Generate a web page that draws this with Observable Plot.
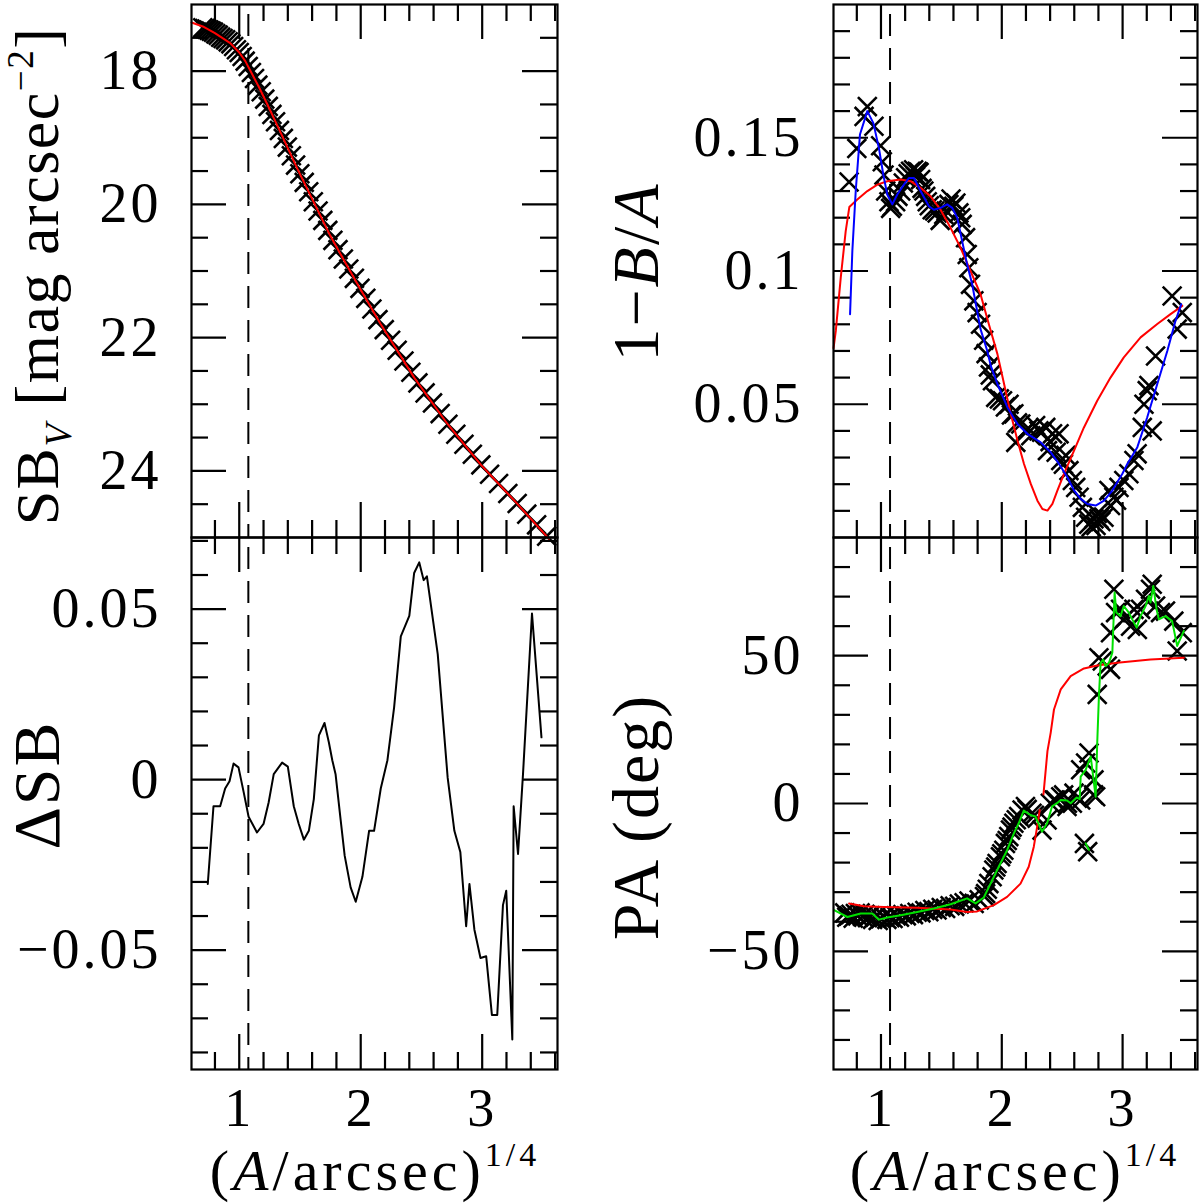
<!DOCTYPE html>
<html><head><meta charset="utf-8">
<script src="https://cdn.jsdelivr.net/npm/d3@7"></script>
<script src="https://cdn.jsdelivr.net/npm/@observablehq/plot@0.6"></script>
<style>
html,body{margin:0;padding:0;background:#fff;}
#fig{position:relative;width:1200px;height:1203px;overflow:hidden;background:#fff;}
#fig svg{position:absolute;}
</style></head><body><div id="fig"></div>
<script>
// ---------------- axes / ticks ----------------
const xDomain = [0.607, 3.62];
const xMajor = [1, 2, 3];
const xMinor = [0.8, 1.2, 1.4, 1.6, 1.8, 2.2, 2.4, 2.6, 2.8, 3.2, 3.4, 3.6];
const centerRadius = [1.075];

const sbDomain = [25, 17];
const sbMajor = [18, 20, 22, 24];
const sbMinor = [17.5, 18.5, 19, 19.5, 20.5, 21, 21.5, 22.5, 23, 23.5, 24.5];
const dsbDomain = [-0.085, 0.071];
const dsbMajor = [-0.05, 0, 0.05];
const dsbMinor = [-0.08, -0.07, -0.06, -0.04, -0.03, -0.02, -0.01, 0.01, 0.02, 0.03, 0.04, 0.06, 0.07];
const ellDomain = [0, 0.2];
const ellMajor = [0.05, 0.1, 0.15];
const ellMinor = [0.01, 0.02, 0.03, 0.04, 0.06, 0.07, 0.08, 0.09, 0.11, 0.12, 0.13, 0.14, 0.16, 0.17, 0.18, 0.19];
const paDomain = [-90, 90];
const paMajor = [-50, 0, 50];
const paMinor = [-80, -70, -60, -40, -30, -20, -10, 10, 20, 30, 40, 60, 70, 80];

// ---------------- surface brightness ----------------
const sbRadius = [0.700,0.717,0.734,0.752,0.770,0.788,0.807,0.827,0.847,0.867,0.888,0.909,0.931,0.954,0.977,1.000,1.024,1.049,1.074,1.100,1.126,1.153,1.181,1.210,1.239,1.269,1.299,1.331,1.363,1.396,1.429,1.464,1.499,1.535,1.572,1.610,1.649,1.688,1.729,1.771,1.813,1.857,1.902,1.948,1.994,2.042,2.092,2.142,2.194,2.246,2.300,2.356,2.413,2.471,2.530,2.591,2.654,2.718,2.783,2.850,2.919,2.989,3.061,3.135,3.211,3.288,3.367,3.448,3.531];
const sbValue = [17.35,17.36,17.37,17.385,17.40,17.415,17.44,17.46,17.49,17.51,17.53,17.56,17.59,17.63,17.68,17.72,17.78,17.85,17.93,18.02,18.11,18.21,18.31,18.42,18.53,18.65,18.76,18.89,19.01,19.14,19.27,19.41,19.54,19.67,19.81,19.96,20.10,20.24,20.39,20.54,20.68,20.82,20.97,21.11,21.26,21.41,21.57,21.73,21.88,22.04,22.19,22.35,22.52,22.68,22.83,22.98,23.14,23.30,23.45,23.60,23.75,23.91,24.05,24.19,24.34,24.49,24.65,24.81,24.98];
const sbModelR = [0.607,0.70,0.80,0.926,1.0,1.05,1.096,1.165,1.229,1.34,1.477,1.614,1.752,1.89,2.0,2.165,2.44,2.716,2.99,3.267,3.55];
const sbModel = [17.27,17.33,17.43,17.58,17.72,17.85,18.01,18.25,18.49,18.92,19.46,19.97,20.48,20.93,21.28,21.80,22.60,23.30,23.91,24.45,25.02];

// ---------------- residual ----------------
const dsbR = [0.741,0.788,0.843,0.884,0.92,0.953,0.994,1.036,1.077,1.146,1.2,1.242,1.284,1.353,1.40,1.449,1.49,1.532,1.573,1.614,1.656,1.702,1.738,1.766,1.793,1.835,1.868,1.917,1.959,2.014,2.069,2.11,2.165,2.22,2.275,2.33,2.4,2.44,2.482,2.518,2.545,2.634,2.716,2.771,2.82,2.868,2.895,2.936,2.986,3.033,3.08,3.124,3.171,3.198,3.248,3.259,3.295,3.336,3.41,3.488];
const dsb = [-0.0306,-0.0078,-0.0078,-0.0026,-0.0005,0.0047,0.0036,-0.0036,-0.0109,-0.0155,-0.013,-0.0067,0.0016,0.005,0.0038,-0.0078,-0.013,-0.0176,-0.015,-0.0057,0.013,0.0166,0.0109,0.0057,0.0016,-0.0119,-0.0223,-0.0316,-0.0358,-0.0285,-0.015,-0.015,-0.0026,0.0057,0.0212,0.042,0.048,0.0606,0.0637,0.0585,0.0596,0.0368,0.0005,-0.015,-0.0212,-0.043,-0.0306,-0.044,-0.0523,-0.0518,-0.069,-0.069,-0.0368,-0.0326,-0.0762,-0.0078,-0.0218,0.0016,0.0487,0.0124];

// ---------------- ellipticity ----------------
const ellR = [0.736,0.80,0.86,0.887,0.942,0.997,1.011,1.025,1.039,1.066,1.08,1.094,1.121,1.14,1.163,1.185,1.204,1.225,1.245,1.27,1.285,1.30,1.315,1.328,1.34,1.355,1.37,1.383,1.40,1.424,1.445,1.465,1.49,1.52,1.54,1.562,1.58,1.603,1.62,1.645,1.66,1.672,1.70,1.714,1.727,1.741,1.769,1.796,1.824,1.85,1.87,1.89,1.905,1.923,1.95,1.98,2.006,2.03,2.06,2.08,2.10,2.116,2.13,2.157,2.198,2.22,2.24,2.28,2.308,2.33,2.364,2.378,2.40,2.42,2.45,2.474,2.488,2.51,2.53,2.556,2.584,2.612,2.64,2.667,2.694,2.72,2.74,2.763,2.78,2.79,2.804,2.82,2.846,2.887,2.9,2.928,2.95,2.97,3.01,3.052,3.094,3.12,3.163,3.177,3.204,3.218,3.245,3.273,3.41,3.452,3.494];
const ell = [0.1334,0.146,0.158,0.1617,0.1543,0.147,0.141,0.136,0.130,0.126,0.1235,0.1243,0.126,0.128,0.130,0.133,0.135,0.1365,0.1374,0.138,0.1355,0.1374,0.137,0.1343,0.131,0.130,0.128,0.126,0.1245,0.123,0.1225,0.1218,0.119,0.1212,0.1225,0.125,0.127,0.1243,0.1255,0.1218,0.12,0.1175,0.1125,0.1062,0.1012,0.095,0.0888,0.0844,0.080,0.074,0.069,0.064,0.061,0.0588,0.0526,0.052,0.0513,0.049,0.050,0.046,0.0464,0.0357,0.043,0.0426,0.040,0.041,0.0382,0.042,0.040,0.0395,0.0413,0.0326,0.036,0.0389,0.032,0.0389,0.0289,0.0275,0.0308,0.0251,0.0214,0.0188,0.0151,0.0113,0.0076,0.005,0.004,0.007,0.0045,0.009,0.007,0.006,0.0076,0.0176,0.012,0.0151,0.014,0.0188,0.0214,0.0239,0.0289,0.0314,0.0413,0.050,0.0551,0.057,0.040,0.0681,0.0906,0.0782,0.0844];
const ellSmoothR = [0.744,0.763,0.791,0.826,0.887,0.937,0.983,1.019,1.052,1.094,1.135,1.19,1.231,1.273,1.328,1.397,1.438,1.493,1.548,1.59,1.631,1.672,1.713,1.755,1.796,1.824,1.88,1.909,1.964,2.047,2.13,2.212,2.322,2.405,2.474,2.543,2.598,2.653,2.708,2.777,2.846,2.915,2.998,3.039,3.122,3.204,3.287,3.37,3.438,3.485];
const ellSmooth = [0.0838,0.1075,0.130,0.1512,0.160,0.1555,0.1461,0.1362,0.1287,0.125,0.1287,0.1324,0.1349,0.1349,0.130,0.1243,0.123,0.1237,0.125,0.1237,0.120,0.1112,0.1025,0.095,0.085,0.0782,0.070,0.0644,0.0576,0.0488,0.0426,0.0389,0.0357,0.032,0.0276,0.0226,0.0177,0.0145,0.0126,0.012,0.0138,0.0176,0.0239,0.0276,0.0339,0.0451,0.0576,0.070,0.0813,0.0875];
const ellModelR = [0.607,0.626,0.667,0.708,0.738,0.804,0.887,0.97,1.052,1.163,1.245,1.328,1.41,1.493,1.576,1.659,1.741,1.824,1.893,1.964,2.019,2.074,2.13,2.184,2.24,2.295,2.336,2.378,2.419,2.46,2.515,2.598,2.68,2.79,2.9,3.01,3.149,3.287,3.397,3.494];
const ellModel = [0.071,0.0775,0.0975,0.115,0.124,0.1268,0.130,0.1324,0.1337,0.1343,0.1337,0.1312,0.128,0.123,0.1162,0.1087,0.100,0.0913,0.080,0.0688,0.0576,0.0464,0.0364,0.0276,0.0201,0.0138,0.0107,0.0101,0.0126,0.0176,0.0239,0.0326,0.0413,0.0513,0.060,0.0676,0.0751,0.0801,0.0838,0.0869];

// ---------------- position angle ----------------
const paR = [0.700,0.717,0.734,0.752,0.770,0.788,0.807,0.827,0.847,0.867,0.888,0.909,0.931,0.954,0.977,1.000,1.024,1.049,1.074,1.100,1.126,1.153,1.181,1.210,1.239,1.269,1.299,1.331,1.363,1.396,1.429,1.464,1.499,1.535,1.572,1.610,1.649,1.688,1.729,1.771,1.813,1.857,
  1.866,1.88,1.893,1.92,1.934,1.95,1.961,1.989,2.0,2.017,2.03,2.045,2.058,2.072,2.085,2.10,2.12,2.14,2.168,2.196,2.21,2.25,2.27,2.293,2.333,2.375,2.402,2.432,2.444,2.488,2.512,2.54,2.543,2.584,2.598,2.625,2.653,2.653,2.684,2.694,2.711,2.722,2.76,2.763,2.777,2.79,2.804,2.832,2.873,2.90,2.90,2.928,2.942,2.983,3.025,3.066,3.094,3.122,3.149,3.19,3.231,3.245,3.273,3.314,3.355,3.424,3.452,3.494];
const pa = [-37.0,-38.5,-38.0,-37.5,-38.8,-37.2,-38.0,-37.0,-38.2,-37.5,-38.6,-38.0,-39.2,-38.5,-39.6,-39.0,-38.4,-39.2,-38.6,-38.9,-38.0,-38.5,-37.6,-38.0,-37.2,-37.6,-36.8,-37.0,-36.2,-36.6,-35.8,-36.0,-35.2,-35.5,-34.6,-34.8,-34.0,-33.6,-33.0,-33.8,-32.6,-31.5,
  -30.5,-29,-27.1,-24.8,-22.5,-21.5,-20.3,-18,-17,-15.8,-13.5,-12.5,-11.2,-9,-8,-6.7,-5.5,-4.4,-2.2,-1.0,-2.0,-3.3,-4.0,-5,-9,-5.6,0.1,1.2,1.2,2.3,2.9,-1.0,0.1,0.1,3.5,1.8,1.2,11.4,-13.5,13.7,-16.3,17.1,2.9,8,2.3,36.9,49.3,48.2,46.5,45.4,57.8,72.5,64.6,65.7,62.9,60,65.7,58.9,65.7,69.1,72.5,74.2,66.8,64.6,65.1,61.7,51.6,57.8];
const paSmoothR = [0.612,0.722,0.832,0.928,0.983,1.052,1.163,1.30,1.438,1.576,1.713,1.783,1.851,1.907,1.975,2.044,2.10,2.14,2.182,2.237,2.278,2.333,2.375,2.416,2.457,2.488,2.54,2.57,2.62,2.645,2.653,2.694,2.736,2.763,2.777,2.79,2.804,2.818,2.84,2.86,2.887,2.915,2.934,2.948,2.983,3.01,3.052,3.08,3.116,3.149,3.19,3.218,3.231,3.254,3.281,3.30,3.355,3.41,3.452,3.507];
const paSmooth = [-36.1,-38.4,-37.2,-37.2,-39.3,-38.6,-37.8,-36.7,-35.5,-34.1,-32.1,-33.8,-31.8,-27.1,-21.4,-15.8,-10.1,-6.7,-2.4,-3.9,-4.4,-9.5,-6.7,-1.0,0.1,1.2,1.0,0.1,2.0,1.5,9.1,11.4,15.9,6.9,2.3,20.5,36.3,47.6,48.7,46.5,47.6,51,71.4,64.6,63.4,66.8,64.6,62.3,59.5,63.4,66.8,70.2,68,73.6,65.7,62.3,63.4,61.7,53.3,58.4];
const paSmoothOutR = [2.694, 2.722];
const paSmoothOut = [-13.5, -15.7];
const paModelR = [0.736,0.86,1.025,1.30,1.576,1.713,1.796,1.934,2.044,2.155,2.223,2.265,2.293,2.314,2.33,2.345,2.378,2.405,2.432,2.488,2.57,2.68,2.79,2.956,3.231,3.507];
const paModel = [-33.8,-34.8,-35.0,-35.3,-35.9,-36.7,-36.5,-34.4,-31.6,-27.1,-21.4,-14.6,-7.8,-2.2,NaN,3.1,17.7,24.0,31.8,38.6,43.1,45.7,46.7,47.6,48.7,49.3];

// ---------------- drawing ----------------
const FONT = "'Liberation Serif', 'DejaVu Serif', serif";
const fig = document.getElementById("fig");
const pts = (xs, ys) => xs.map((x, i) => ({x, y: ys[i]}));
const MAJ = 35, MIN = 17, LW = 2.2;
const fmt = d => d === 0 ? "0" : (d < 0 ? "\u2212" : "") + String(Math.abs(d));

function frameTicks(yMaj, yMin, pw, ph) {
  const o = {stroke: "black", strokeWidth: LW};
  return [
    Plot.tickX(xMajor, {x: d => d, insetTop: ph - MAJ, ...o}),
    Plot.tickX(xMajor, {x: d => d, insetBottom: ph - MAJ, ...o}),
    Plot.tickX(xMinor, {x: d => d, insetTop: ph - MIN, ...o}),
    Plot.tickX(xMinor, {x: d => d, insetBottom: ph - MIN, ...o}),
    Plot.tickY(yMaj, {y: d => d, insetRight: pw - MAJ, ...o}),
    Plot.tickY(yMaj, {y: d => d, insetLeft: pw - MAJ, ...o}),
    Plot.tickY(yMin, {y: d => d, insetRight: pw - MIN, ...o}),
    Plot.tickY(yMin, {y: d => d, insetLeft: pw - MIN, ...o})
  ];
}

function panel(cfg) {
  const [fx0, fy0, fx1, fy1] = cfg.frame;
  const pw = fx1 - fx0, ph = fy1 - fy0;
  const marks = [
    ...frameTicks(cfg.yMaj, cfg.yMin, pw, ph),
    Plot.ruleX(centerRadius, {x: d => d, stroke: "black", strokeWidth: 2, strokeDasharray: "22,12", strokeDashoffset: -10}),
    ...cfg.marks,
    Plot.frame({stroke: "black", strokeWidth: LW}),
    Plot.axisY(cfg.yMaj, {anchor: "left", label: null, tickSize: 0, tickPadding: 30, fontSize: 56, tickFormat: fmt})
  ];
  if (cfg.xLabels) marks.push(Plot.axisX(xMajor, {anchor: "bottom", label: null, tickSize: 0, tickPadding: 18, fontSize: 54, tickFormat: d => String(d)}));
  const svg = Plot.plot({
    width: cfg.width, height: cfg.height,
    marginLeft: fx0 - cfg.left, marginRight: cfg.left + cfg.width - fx1,
    marginTop: fy0 - cfg.top, marginBottom: cfg.top + cfg.height - fy1,
    x: {domain: xDomain, axis: null, label: null},
    y: {domain: cfg.yDomain, axis: null, label: null},
    style: {background: "transparent", fontFamily: FONT, overflow: "visible", letterSpacing: "3px", color: "black"},
    marks
  });
  svg.style.position = "absolute";
  svg.style.left = cfg.left + "px";
  svg.style.top = cfg.top + "px";
  fig.appendChild(svg);
}

const X = {symbol: "times", r: 8.6, stroke: "black", strokeWidth: 2.6};

panel({left: 0, top: 0, width: 600, height: 560, frame: [191, 4, 557, 537],
  yDomain: sbDomain, yMaj: sbMajor, yMin: sbMinor,
  marks: [
    Plot.dot(pts(sbRadius, sbValue), {x: "x", y: "y", ...X}),
    Plot.line(pts(sbModelR, sbModel), {x: "x", y: "y", stroke: "#ff0000", strokeWidth: 2})
  ]});

panel({left: 0, top: 527, width: 600, height: 676, frame: [191, 537, 557, 1069],
  yDomain: dsbDomain, yMaj: dsbMajor, yMin: dsbMinor, xLabels: true,
  marks: [
    Plot.line(pts(dsbR, dsb), {x: "x", y: "y", stroke: "black", strokeWidth: 2})
  ]});

panel({left: 640, top: 0, width: 560, height: 560, frame: [833, 4, 1197, 537],
  yDomain: ellDomain, yMaj: ellMajor, yMin: ellMinor,
  marks: [
    Plot.dot(pts(ellR, ell), {x: "x", y: "y", ...X}),
    Plot.line(pts(ellModelR, ellModel), {x: "x", y: "y", stroke: "#ff0000", strokeWidth: 2}),
    Plot.line(pts(ellSmoothR, ellSmooth), {x: "x", y: "y", stroke: "#0000ff", strokeWidth: 2})
  ]});

panel({left: 640, top: 527, width: 560, height: 676, frame: [833, 537, 1197, 1069],
  yDomain: paDomain, yMaj: paMajor, yMin: paMinor, xLabels: true,
  marks: [
    Plot.dot(pts(paR, pa), {x: "x", y: "y", ...X}),
    Plot.line(pts(paModelR, paModel), {x: "x", y: "y", stroke: "#ff0000", strokeWidth: 2}),
    Plot.line(pts(paSmoothR, paSmooth), {x: "x", y: "y", stroke: "#00e000", strokeWidth: 2}),
    Plot.line(pts(paSmoothOutR, paSmoothOut), {x: "x", y: "y", stroke: "#00e000", strokeWidth: 2})
  ]});

// ---------------- axis titles ----------------
const ov = d3.select(fig).append("svg")
  .attr("width", 1200).attr("height", 1203)
  .style("left", "0px").style("top", "0px")
  .attr("font-family", FONT).attr("fill", "black");

function title(x, y, rot, size, ls, parts) {
  const t = ov.append("text")
    .attr("transform", `translate(${x},${y})` + (rot ? ` rotate(${rot})` : ""))
    .attr("text-anchor", "middle").attr("font-size", size)
    .style("letter-spacing", ls + "px");
  for (const p of parts) {
    const s = t.append("tspan").text(p.t);
    if (p.i) s.attr("font-style", "italic");
    if (p.s) s.attr("font-size", p.s);
    if (p.dy) s.attr("dy", p.dy);
  }
}
title(58, 276, -90, 62, 1.5, [{t: "SB"}, {t: "V", i: 1, s: 37, dy: 13}, {t: " [", dy: -13}, {t: "mag arcsec"}, {t: "\u22122", s: 37, dy: -25}, {t: "]", dy: 25}]);
title(59, 785, -90, 66, 2, [{t: "\u0394SB"}]);
title(658, 272, -90, 66, 2, [{t: "1\u2212"}, {t: "B", i: 1}, {t: "/"}, {t: "A", i: 1}]);
title(658, 817, -90, 66, 2, [{t: "PA (deg)"}]);
for (const cx of [375, 1015]) {
  title(cx, 1190, 0, 58, 4, [{t: "("}, {t: "A", i: 1}, {t: "/arcsec)"}, {t: "1/4", s: 34, dy: -24}]);
}
</script></body></html>
